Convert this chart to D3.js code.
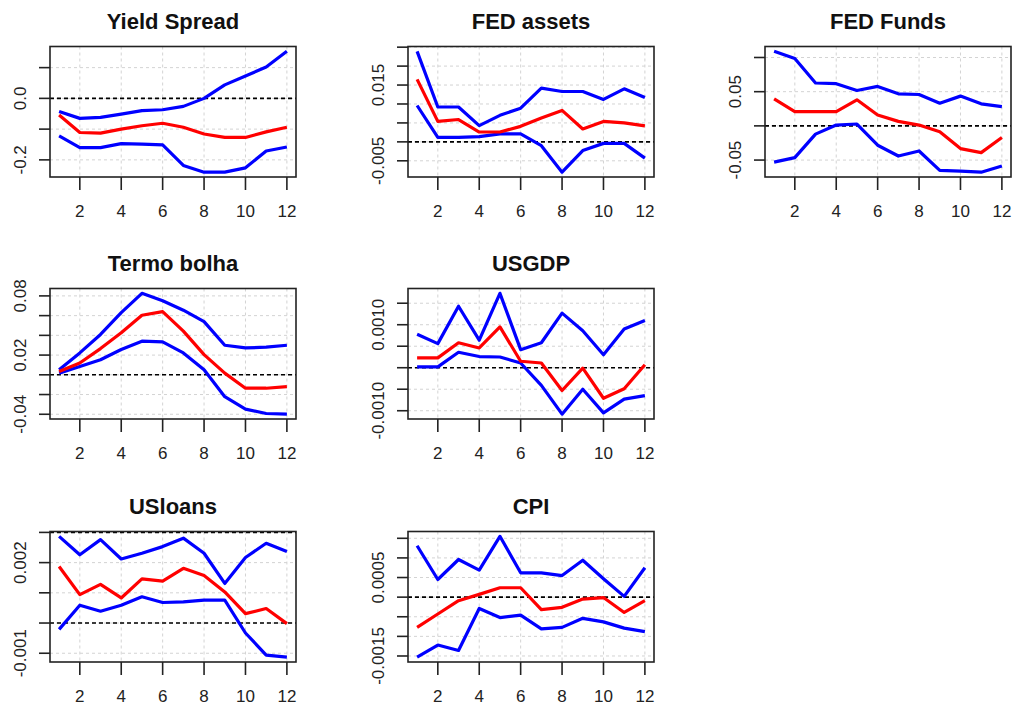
<!DOCTYPE html>
<html>
<head>
<meta charset="utf-8">
<script src="https://cdn.jsdelivr.net/npm/d3@7"></script>
<style>
  body { margin: 0; background: #fff; }
  svg { display: block; font-family: "Liberation Sans", Arial, sans-serif; }
</style>
</head>
<body>
<svg id="chart" width="1013" height="705"></svg>
<script>

// Horizons 1..12
var steps = d3.range(1, 13);
var xTicks = [2, 4, 6, 8, 10, 12];

var titles = ["Yield Spread", "FED assets", "FED Funds", "Termo bolha", "USGDP", "USloans", "CPI"];

// Impulse responses (red) with upper / lower bands (blue)
var yieldUpper = [-0.043, -0.065, -0.062, -0.051, -0.040, -0.037, -0.026, 0.000, 0.044, 0.073, 0.102, 0.153];
var yieldIrf   = [-0.054, -0.111, -0.113, -0.100, -0.089, -0.081, -0.094, -0.116, -0.127, -0.127, -0.109, -0.094];
var yieldLower = [-0.122, -0.160, -0.160, -0.147, -0.149, -0.151, -0.218, -0.240, -0.240, -0.226, -0.171, -0.158];

var assetsUpper = [0.0239, 0.0092, 0.0092, 0.0043, 0.0070, 0.0089, 0.0142, 0.0133, 0.0133, 0.0112, 0.0140, 0.0117];
var assetsIrf   = [0.0165, 0.0054, 0.0059, 0.0026, 0.0026, 0.0041, 0.0063, 0.0083, 0.0034, 0.0054, 0.0050, 0.0042];
var assetsLower = [0.0096, 0.0012, 0.0012, 0.0014, 0.0021, 0.0021, -0.0010, -0.0080, -0.0023, -0.0004, -0.0004, -0.0043];

var fundsUpper = [0.109, 0.0985, 0.0627, 0.0617, 0.0518, 0.0577, 0.0469, 0.0459, 0.0332, 0.0435, 0.0322, 0.0282];
var fundsIrf   = [0.0395, 0.0208, 0.0208, 0.0208, 0.0381, 0.0159, 0.0066, 0.0012, -0.0087, -0.0332, -0.0391, -0.0170];
var fundsLower = [-0.053, -0.0465, -0.0121, 0.0012, 0.0027, -0.0283, -0.0441, -0.0367, -0.0652, -0.0662, -0.0677, -0.0588];

var termoUpper = [0.0051, 0.0222, 0.0409, 0.0630, 0.0826, 0.0750, 0.0655, 0.0539, 0.0300, 0.0273, 0.0280, 0.0300];
var termoIrf   = [0.0034, 0.0120, 0.0266, 0.0426, 0.0604, 0.0641, 0.0443, 0.0205, 0.0017, -0.0136, -0.0136, -0.0119];
var termoLower = [0.0017, 0.0085, 0.0153, 0.0256, 0.0341, 0.0334, 0.0222, 0.0051, -0.0222, -0.0348, -0.0392, -0.0399];

var gdpUpper = [0.00078, 0.00056, 0.00143, 0.00064, 0.00173, 0.00042, 0.00058, 0.00127, 0.00086, 0.00030, 0.00090, 0.00110];
var gdpIrf   = [0.00023, 0.00023, 0.00058, 0.00046, 0.00095, 0.00015, 0.00011, -0.00053, -0.00001, -0.00071, -0.00049, 0.00007];
var gdpLower = [0.00002, 0.00002, 0.00036, 0.00026, 0.00025, 0.00011, -0.00041, -0.00108, -0.00050, -0.00105, -0.00073, -0.00065];

var loansUpper = [0.00287, 0.00226, 0.00276, 0.00212, 0.00231, 0.00253, 0.00281, 0.00231, 0.00131, 0.00217, 0.00264, 0.00237];
var loansIrf   = [0.00187, 0.00094, 0.00128, 0.00083, 0.00146, 0.00139, 0.00181, 0.00157, 0.00103, 0.00031, 0.00048, -0.00002];
var loansLower = [-0.00021, 0.00059, 0.00039, 0.00059, 0.00087, 0.00068, 0.00070, 0.00076, 0.00076, -0.00033, -0.00106, -0.00113];

var cpiUpper = [0.00131, 0.00045, 0.00096, 0.00069, 0.00155, 0.00062, 0.00062, 0.00055, 0.00094, 0.00047, 0.00002, 0.00075];
var cpiIrf   = [-0.00077, -0.00043, -0.00009, 0.00007, 0.00024, 0.00024, -0.00032, -0.00026, -0.00005, -0.00001, -0.00039, -0.00009];
var cpiLower = [-0.00153, -0.00122, -0.00136, -0.00029, -0.00052, -0.00046, -0.00081, -0.00077, -0.00054, -0.00063, -0.00079, -0.00088];

// Y axis ticks and the labels that R kept
var yTicks = [
  [-0.2, -0.1, 0.0, 0.1],
  [-0.005, 0, 0.005, 0.010, 0.015, 0.020, 0.025],
  [-0.05, 0, 0.05, 0.10],
  [-0.04, -0.02, 0, 0.02, 0.04, 0.06, 0.08],
  [-0.0010, -0.0005, 0, 0.0005, 0.0010, 0.0015],
  [-0.001, 0, 0.001, 0.002, 0.003],
  [-0.0015, -0.0010, -0.0005, 0, 0.0005, 0.0010, 0.0015]
];
var yLabels = [
  [[-0.2, "-0.2"], [0.0, "0.0"]],
  [[-0.005, "-0.005"], [0.015, "0.015"]],
  [[-0.05, "-0.05"], [0.05, "0.05"]],
  [[-0.04, "-0.04"], [0.02, "0.02"], [0.08, "0.08"]],
  [[-0.0010, "-0.0010"], [0.0010, "0.0010"]],
  [[-0.001, "-0.001"], [0.002, "0.002"]],
  [[-0.0015, "-0.0015"], [0.0005, "0.0005"]]
];
// dashed reference lines
var refLines = [[0], [0], [0], [0], [0], [0, 0.003], [0]];

var uppers = [yieldUpper, assetsUpper, fundsUpper, termoUpper, gdpUpper, loansUpper, cpiUpper];
var irfs   = [yieldIrf, assetsIrf, fundsIrf, termoIrf, gdpIrf, loansIrf, cpiIrf];
var lowers = [yieldLower, assetsLower, fundsLower, termoLower, gdpLower, loansLower, cpiLower];

// Layout: [column, row] of each panel
var cells = [[0, 0], [1, 0], [2, 0], [0, 1], [1, 1], [0, 2], [1, 2]];
var colLeft = [50, 408, 765],
    rowTop = [46.5, 288.5, 531.5],
    pw = 246, ph = 130.5;

var svg = d3.select("#chart");

titles.forEach(function(title, i) {
  var left = colLeft[cells[i][0]], top = rowTop[cells[i][1]];
  var g = svg.append("g").attr("transform", "translate(" + left + "," + top + ")");

  var all = uppers[i].concat(irfs[i], lowers[i]);
  var ext = d3.extent(all), pad = (ext[1] - ext[0]) * 0.04;

  var x = d3.scaleLinear().domain([1 - 11 * 0.04, 12 + 11 * 0.04]).range([0, pw]);
  var y = d3.scaleLinear().domain([ext[0] - pad, ext[1] + pad]).range([ph, 0]);

  // grid
  g.selectAll(".gx").data(xTicks).enter().append("line")
    .attr("x1", function(d) { return x(d); }).attr("x2", function(d) { return x(d); })
    .attr("y1", 0).attr("y2", ph)
    .attr("stroke", "#d3d3d3").attr("stroke-dasharray", "3,3");
  g.selectAll(".gy").data(yTicks[i]).enter().append("line")
    .attr("x1", 0).attr("x2", pw)
    .attr("y1", function(d) { return y(d); }).attr("y2", function(d) { return y(d); })
    .attr("stroke", "#d3d3d3").attr("stroke-dasharray", "3,3");

  // reference lines
  g.selectAll(".ref").data(refLines[i]).enter().append("line")
    .attr("x1", 0).attr("x2", pw)
    .attr("y1", function(d) { return y(d); }).attr("y2", function(d) { return y(d); })
    .attr("stroke", "#000").attr("stroke-width", 1.6).attr("stroke-dasharray", "4,3");

  var line = d3.line()
    .x(function(d, k) { return x(steps[k]); })
    .y(function(d) { return y(d); });

  [[lowers[i], "#0000ff"], [uppers[i], "#0000ff"], [irfs[i], "#ff0000"]].forEach(function(s) {
    g.append("path").datum(s[0])
      .attr("d", line)
      .attr("fill", "none")
      .attr("stroke", s[1])
      .attr("stroke-width", 3.2)
      .attr("stroke-linejoin", "round");
  });

  // box
  g.append("rect").attr("width", pw).attr("height", ph)
    .attr("fill", "none").attr("stroke", "#222").attr("stroke-width", 1.6);

  // x axis
  g.selectAll(".tx").data(xTicks).enter().append("line")
    .attr("x1", function(d) { return x(d); }).attr("x2", function(d) { return x(d); })
    .attr("y1", ph).attr("y2", ph + 13)
    .attr("stroke", "#222").attr("stroke-width", 1.6);
  g.selectAll(".lx").data(xTicks).enter().append("text")
    .attr("x", function(d) { return x(d); })
    .attr("y", ph + 40)
    .attr("text-anchor", "middle")
    .attr("font-size", 17)
    .attr("fill", "#222")
    .text(function(d) { return d; });

  // y axis
  g.selectAll(".ty").data(yTicks[i]).enter().append("line")
    .attr("x1", -11).attr("x2", 0)
    .attr("y1", function(d) { return y(d); }).attr("y2", function(d) { return y(d); })
    .attr("stroke", "#222").attr("stroke-width", 1.6);
  g.selectAll(".ly").data(yLabels[i]).enter().append("text")
    .attr("transform", function(d) { return "translate(-24," + y(d[0]) + ") rotate(-90)"; })
    .attr("text-anchor", "middle")
    .attr("font-size", 17)
    .attr("fill", "#222")
    .text(function(d) { return d[1]; });

  // title
  g.append("text")
    .attr("x", pw / 2)
    .attr("y", -18)
    .attr("text-anchor", "middle")
    .attr("font-size", 22)
    .attr("font-weight", "bold")
    .attr("fill", "#111")
    .text(title);
});

</script>
</body>
</html>
